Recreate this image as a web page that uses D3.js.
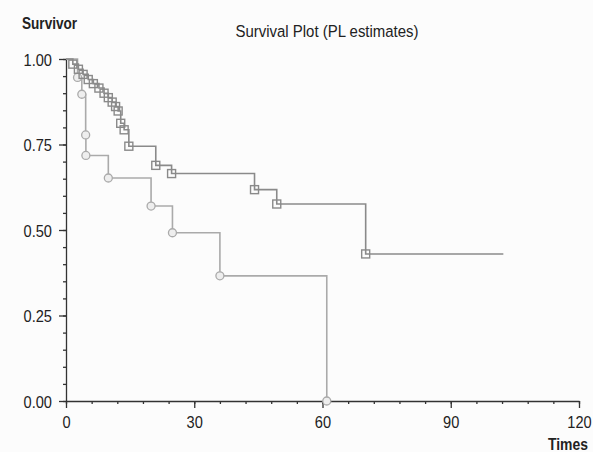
<!DOCTYPE html>
<html>
<head>
<meta charset="utf-8">
<script src="https://cdn.jsdelivr.net/npm/d3@7"></script>
<style>
  body { margin: 0; background: #fcfcfc; }
  svg { display: block; }
  text { font-family: "Liberation Sans", Arial, sans-serif; fill: #222; }
</style>
</head>
<body>
<div id="chart"></div>
<script>
// Group 1 (squares): event times and survival after each event
const sqTimes = [1.6, 2.9, 4.0, 5.2, 6.4, 7.7, 8.9, 9.9, 10.8, 11.6, 12.2, 12.8, 13.6, 14.7, 21.0, 24.7, 44.1, 49.3, 70.1];
const sqSurv  = [0.985, 0.970, 0.955, 0.940, 0.928, 0.915, 0.900, 0.887, 0.874, 0.861, 0.848, 0.812, 0.793, 0.745, 0.689, 0.665, 0.618, 0.576, 0.430];
const sqEnd = 102.3;

// Group 2 (circles)
const ciTimes = [2.7, 3.7, 4.6, 4.65, 9.9, 19.9, 24.9, 36.0, 61.0];
const ciSurv  = [0.946, 0.897, 0.778, 0.718, 0.652, 0.570, 0.492, 0.366, 0.0];

const xTicks = [0, 30, 60, 90, 120];
const yTicks = [0, 0.25, 0.5, 0.75, 1.0];

const W = 593, H = 452;
const svg = d3.select("#chart").append("svg")
  .attr("width", W).attr("height", H);

const x = d3.scaleLinear().domain([0, 120]).range([66, 579]);
const y = d3.scaleLinear().domain([0, 1]).range([401, 59]);

// narrow a text horizontally around its anchor point (condensed look)
function squeeze(sel, k) {
  sel.each(function () {
    const t = d3.select(this);
    const tx = +t.attr("x") || 0, ty = +t.attr("y") || 0;
    t.attr("transform", `translate(${tx},${ty}) scale(${k},1)`)
      .attr("x", 0).attr("y", 0);
  });
}

// axes
const axisColor = "#333";
const yAxis = svg.append("g")
  .attr("transform", `translate(${x(0)},0)`)
  .call(d3.axisLeft(y).tickValues(yTicks).tickFormat(d3.format(".2f")).tickSize(7).tickSizeOuter(0));
const yMinor = svg.append("g")
  .attr("transform", `translate(${x(0)},0)`)
  .call(d3.axisLeft(y).tickValues(d3.range(0, 1.001, 0.05)).tickFormat("").tickSize(3).tickSizeOuter(0));

const xAxis = svg.append("g")
  .attr("transform", `translate(0,${y(0)})`)
  .call(d3.axisBottom(x).tickValues(xTicks).tickSize(7).tickSizeOuter(0));
const xMinor = svg.append("g")
  .attr("transform", `translate(0,${y(0)})`)
  .call(d3.axisBottom(x).tickValues(d3.range(0, 120.1, 6)).tickFormat("").tickSize(3).tickSizeOuter(0));

[yAxis, yMinor, xAxis, xMinor].forEach(g => {
  g.selectAll("path, line").attr("stroke", axisColor).attr("stroke-width", 1.3);
  g.selectAll("text").attr("font-size", 17).attr("fill", "#222")
    .style("font-family", '"Liberation Sans", Arial, sans-serif');
});
yMinor.select("path").remove();
xMinor.select("path").remove();
yAxis.selectAll("text").attr("x", -14).attr("dy", "0.36em");
xAxis.selectAll("text").attr("y", 27).attr("dy", 0);
squeeze(yAxis.selectAll("text"), 0.86);
squeeze(xAxis.selectAll("text"), 0.86);

// titles
svg.append("text").attr("x", 22).attr("y", 29)
  .attr("font-size", 17).attr("font-weight", "bold").text("Survivor")
  .call(squeeze, 0.8);
svg.append("text").attr("x", 588).attr("y", 450).attr("text-anchor", "end")
  .attr("font-size", 17).attr("font-weight", "bold").text("Times")
  .call(squeeze, 0.82);
svg.append("text").attr("x", 327).attr("y", 37).attr("text-anchor", "middle")
  .attr("font-size", 17).text("Survival Plot (PL estimates)")
  .call(squeeze, 0.88);

const line = d3.line().x(d => x(d[0])).y(d => y(d[1])).curve(d3.curveStepAfter);

function drawGroup(times, surv, end, color, marker) {
  const pts = [[0, 1]].concat(times.map((t, i) => [t, surv[i]]));
  if (end != null) pts.push([end, surv[surv.length - 1]]);
  svg.append("path").datum(pts)
    .attr("d", line).attr("fill", "none")
    .attr("stroke", color).attr("stroke-width", 1.6);

  const marks = svg.append("g").selectAll("g")
    .data(times.map((t, i) => [t, surv[i]]))
    .join("g")
    .attr("transform", d => `translate(${x(d[0])},${y(d[1])})`);
  if (marker === "square") {
    marks.append("rect").attr("x", -4).attr("y", -4).attr("width", 8).attr("height", 8)
      .attr("fill", "none").attr("stroke", color).attr("stroke-width", 1.4);
  } else {
    marks.append("circle").attr("r", 4)
      .attr("fill", "#eee").attr("stroke", color).attr("stroke-width", 1.3);
  }
}

drawGroup(ciTimes, ciSurv, null, "#aaaaaa", "circle");
drawGroup(sqTimes, sqSurv, sqEnd, "#8a8a8a", "square");
</script>
</body>
</html>
